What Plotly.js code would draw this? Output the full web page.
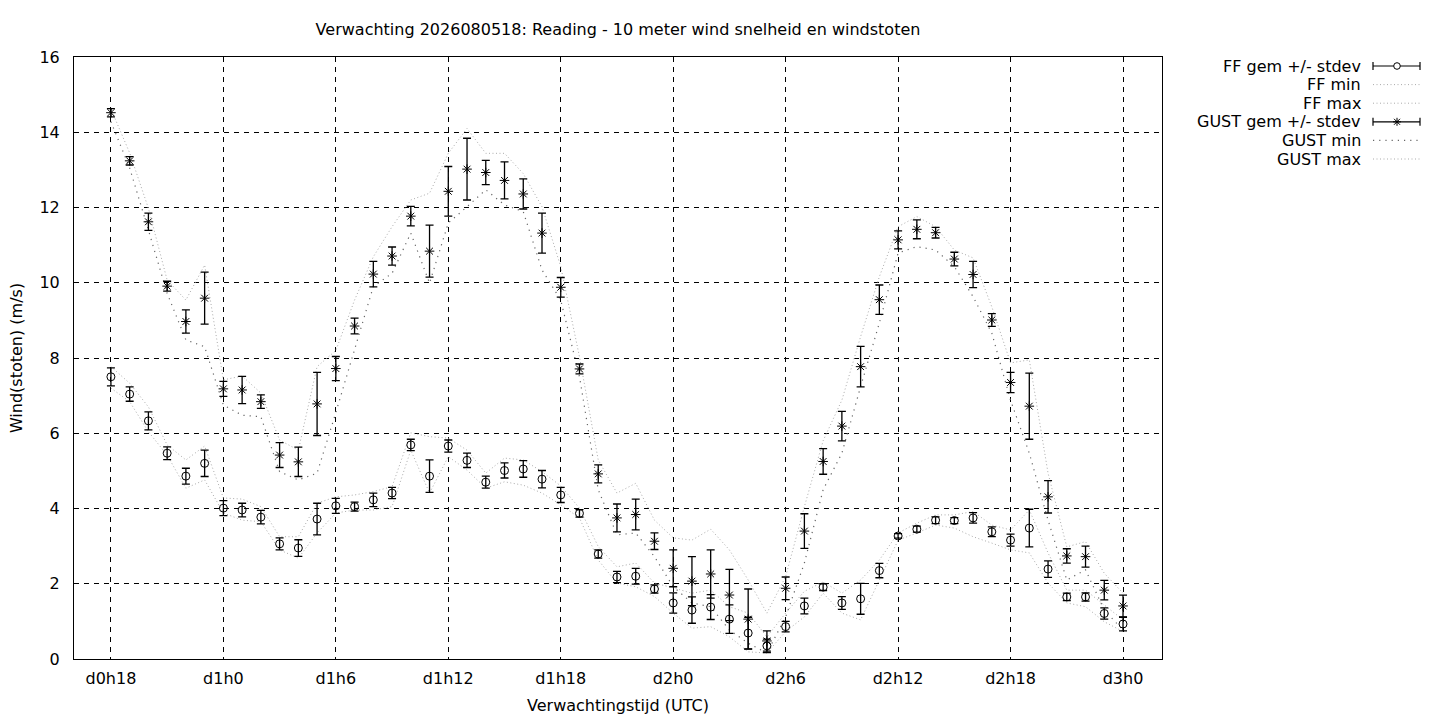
<!DOCTYPE html>
<html>
<head>
<meta charset="utf-8">
<script src="https://cdn.plot.ly/plotly-3.0.1.min.js"></script>
<style>
  html, body { margin: 0; padding: 0; background: #fff; }
  #chart { width: 1440px; height: 720px; }
</style>
</head>
<body>
<div id="chart"></div>
<script>
// forecast hour since d0h0
var hours = [18,19,20,21,22,23,24,25,26,27,28,29,30,31,32,33,34,35,36,37,38,39,40,41,
  42,43,44,45,46,47,48,49,50,51,52,53,54,55,56,57,58,59,60,61,62,63,64,65,66,67,68,69,70,71,72];

var tickHours = [18, 24, 30, 36, 42, 48, 54, 60, 66, 72];
var tickLabels = ["d0h18", "d1h0", "d1h6", "d1h12", "d1h18", "d2h0", "d2h6", "d2h12", "d2h18", "d3h0"];

var ffMean = [7.5,7.04,6.33,5.47,4.86,5.2,4.01,3.96,3.77,3.06,2.95,3.72,
  4.07,4.05,4.23,4.41,5.69,4.86,5.66,5.28,4.7,5.01,5.05,4.78,
  4.36,3.87,2.79,2.18,2.2,1.86,1.49,1.3,1.38,1.06,0.69,0.35,
  0.86,1.41,1.91,1.49,1.6,2.35,3.27,3.45,3.69,3.68,3.75,3.38,
  3.16,3.48,2.39,1.65,1.65,1.21,0.93];
var ffSd = [0.24,0.19,0.24,0.17,0.21,0.35,0.2,0.18,0.18,0.16,0.22,0.42,
  0.2,0.12,0.18,0.15,0.15,0.43,0.16,0.19,0.16,0.2,0.22,0.23,
  0.2,0.1,0.11,0.15,0.21,0.11,0.27,0.35,0.33,0.38,0.42,0.18,
  0.14,0.21,0.09,0.17,0.41,0.19,0.06,0.08,0.09,0.08,0.14,0.13,
  0.16,0.5,0.22,0.1,0.11,0.15,0.18];
var ffMin = [7.2,6.84,6.04,5.42,4.54,4.76,3.88,3.69,3.65,2.9,2.68,3.35,
  3.88,3.96,3.96,4.05,5.55,4.41,5.38,5.02,4.54,4.71,4.62,4.41,
  4.1,3.75,2.63,2.02,1.92,1.66,1.22,0.82,0.86,0.59,0.19,0.16,
  0.73,1.12,1.75,1.22,1.04,2.1,3.16,3.35,3.56,3.48,3.25,3.08,
  2.9,2.82,2.02,1.49,1.39,0.99,0.73];
var ffMax = [7.77,7.33,6.7,5.69,5.29,5.66,4.28,4.25,4.05,3.25,3.25,4.14,
  4.31,4.36,4.45,4.58,6.01,5.91,5.87,5.55,4.94,5.34,5.29,4.98,
  4.6,4.01,2.99,2.45,2.55,2.02,1.89,1.75,1.83,1.39,1.22,0.59,
  1.22,1.8,2.05,1.75,2.1,2.63,3.35,3.61,3.83,3.83,3.92,3.56,
  3.43,3.96,2.82,1.83,1.83,1.44,1.04];

var gustMean = [14.52,13.24,11.62,9.91,8.97,9.59,7.18,7.15,6.84,5.42,5.24,6.78,
  7.72,8.85,10.23,10.71,11.77,10.84,12.43,13.02,12.93,12.72,12.36,11.32,
  9.88,7.71,4.92,3.75,3.84,3.13,2.41,2.07,2.26,1.7,1.06,0.48,
  1.88,3.4,5.25,6.19,7.77,9.55,11.14,11.42,11.33,10.63,10.22,9.01,
  7.35,6.72,4.31,2.74,2.72,1.83,1.41];
var gustSd = [0.11,0.11,0.23,0.13,0.31,0.69,0.2,0.36,0.18,0.33,0.39,0.84,
  0.32,0.21,0.34,0.24,0.26,0.69,0.66,0.82,0.32,0.49,0.4,0.53,
  0.26,0.13,0.24,0.37,0.41,0.22,0.49,0.65,0.64,0.68,0.8,0.27,
  0.3,0.46,0.34,0.39,0.54,0.39,0.24,0.25,0.14,0.18,0.35,0.17,
  0.27,0.88,0.43,0.19,0.28,0.26,0.29];
var gustMin = [14.28,13.05,11.4,9.72,8.48,8.3,6.75,6.48,6.44,4.98,4.76,4.94,
  6.55,8.2,9.9,10.25,11.32,9.99,11.59,12.02,12.47,12.07,11.89,10.34,
  9.54,7.5,4.5,3.3,3.35,2.72,1.92,1.49,1.39,0.77,0.42,0.16,
  1.12,2.55,4.5,5.47,7.24,8.93,10.79,10.96,10.87,10.43,9.63,8.66,
  6.88,5.47,3.69,2.1,2.37,1.3,0.77];
var gustMax = [14.62,13.45,11.98,10.07,9.54,10.47,7.42,7.52,7.07,5.82,5.55,7.77,
  8.2,9.54,10.69,11.49,12.2,12.38,13.44,14.1,13.44,13.44,12.9,12.02,
  10.43,8.03,5.29,4.41,4.67,3.69,3.22,3.16,3.45,2.9,2.1,1.22,
  2.19,4.05,5.8,6.88,8.57,10.16,11.49,11.76,11.49,10.87,10.66,9.36,
  7.87,7.95,4.94,2.98,3.12,2.28,1.75];

var font = "DejaVu Sans, sans-serif";
var fineDot = {color: "#aaaaaa", width: 1, dash: "1px,2.5px"};
var wideDot = {color: "#666666", width: 1.2, dash: "1.2px,5px"};

function bandLine(y, line) {
  return {x: hours, y: y, type: "scatter", mode: "lines", line: line,
    hoverinfo: "skip", showlegend: false};
}

function meanTrace(y, sd, symbol) {
  return {
    x: hours, y: y, type: "scatter", mode: "markers", showlegend: false,
    marker: {symbol: symbol, size: 8, color: "black",
      line: {color: "black", width: 1}},
    error_y: {type: "data", array: sd, visible: true, color: "black", thickness: 1.3, width: 4}
  };
}

var data = [
  bandLine(ffMin, fineDot),
  bandLine(ffMax, fineDot),
  bandLine(gustMin, wideDot),
  bandLine(gustMax, fineDot),
  meanTrace(ffMean, ffSd, "circle-open"),
  meanTrace(gustMean, gustSd, "asterisk-open")
];

// legend drawn gnuplot style: text right aligned, sample on the right
var legendNames = ["FF gem +/- stdev", "FF min", "FF max", "GUST gem +/- stdev", "GUST min", "GUST max"];
var legendKind = ["errCircle", "fine", "fine", "errStar", "wide", "fine"];

var plotL = 74, plotT = 57, plotW = 1088, plotH = 602;
function px(x) { return (x - plotL) / plotW; }
function py(y) { return (plotT + plotH - y) / plotH; }

var annotations = [];
var shapes = [];
var sx0 = px(1373), sx1 = px(1420), sxm = px(1397);
for (var i = 0; i < legendNames.length; i++) {
  var ry = py(66 + i * 18.6);
  annotations.push({xref: "paper", yref: "paper", x: px(1363), y: ry, xanchor: "right", yanchor: "middle",
    text: legendNames[i], showarrow: false, font: {family: font, size: 16, color: "black"}});
  var k = legendKind[i];
  if (k == "fine" || k == "wide") {
    var ln = k == "fine" ? fineDot : wideDot;
    shapes.push({type: "line", xref: "paper", yref: "paper", x0: sx0, x1: sx1, y0: ry, y1: ry, line: ln});
  } else {
    var blk = {color: "black", width: 1.2};
    shapes.push({type: "line", xref: "paper", yref: "paper", x0: sx0, x1: sx1, y0: ry, y1: ry, line: blk});
    [sx0, sx1].forEach(function (cx) {
      shapes.push({type: "line", xref: "paper", yref: "paper", xsizemode: "pixel", ysizemode: "pixel",
        xanchor: cx, yanchor: ry, x0: 0, x1: 0, y0: -4, y1: 4, line: blk});
    });
    if (k == "errCircle") {
      shapes.push({type: "circle", xref: "paper", yref: "paper", xsizemode: "pixel", ysizemode: "pixel",
        xanchor: sxm, yanchor: ry, x0: -3.3, x1: 3.3, y0: -3.3, y1: 3.3,
        fillcolor: "white", line: {color: "black", width: 1}});
    } else {
      var arms = [[-4, 0, 4, 0], [0, -4, 0, 4], [-3, -3, 3, 3], [-3, 3, 3, -3]];
      arms.forEach(function (a) {
        shapes.push({type: "line", xref: "paper", yref: "paper", xsizemode: "pixel", ysizemode: "pixel",
          xanchor: sxm, yanchor: ry, x0: a[0], y0: a[1], x1: a[2], y1: a[3], line: {color: "black", width: 1}});
      });
    }
  }
}

var layout = {
  width: 1440, height: 720,
  paper_bgcolor: "white", plot_bgcolor: "white",
  margin: {l: plotL, r: 1440 - plotL - plotW, t: plotT, b: 720 - plotT - plotH, pad: 0},
  font: {family: font, size: 16, color: "black"},
  showlegend: false,
  title: {text: "Verwachting 2026080518: Reading - 10 meter wind snelheid en windstoten",
    x: 0.5, xref: "paper", xanchor: "center", y: 1 - 29 / 720, yref: "container", yanchor: "middle",
    font: {family: font, size: 16, color: "black"}},
  xaxis: {
    range: [16.03, 74.08], tickvals: tickHours, ticktext: tickLabels,
    showgrid: true, gridcolor: "black", gridwidth: 1, griddash: "5px,5px",
    showline: true, linecolor: "black", linewidth: 1, mirror: true,
    ticks: "", zeroline: false, ticklabelstandoff: 5,
    title: {text: "Verwachtingstijd (UTC)", standoff: 12, font: {family: font, size: 16}}
  },
  yaxis: {
    range: [0, 16], dtick: 2,
    showgrid: true, gridcolor: "black", gridwidth: 1, griddash: "5px,5px",
    showline: true, linecolor: "black", linewidth: 1, mirror: true,
    ticks: "", zeroline: false, ticklabelstandoff: 10,
    title: {text: "Wind(stoten) (m/s)", standoff: 12, font: {family: font, size: 16}}
  },
  annotations: annotations,
  shapes: shapes
};

Plotly.newPlot("chart", data, layout, {staticPlot: true, displayModeBar: false});
</script>
</body>
</html>
